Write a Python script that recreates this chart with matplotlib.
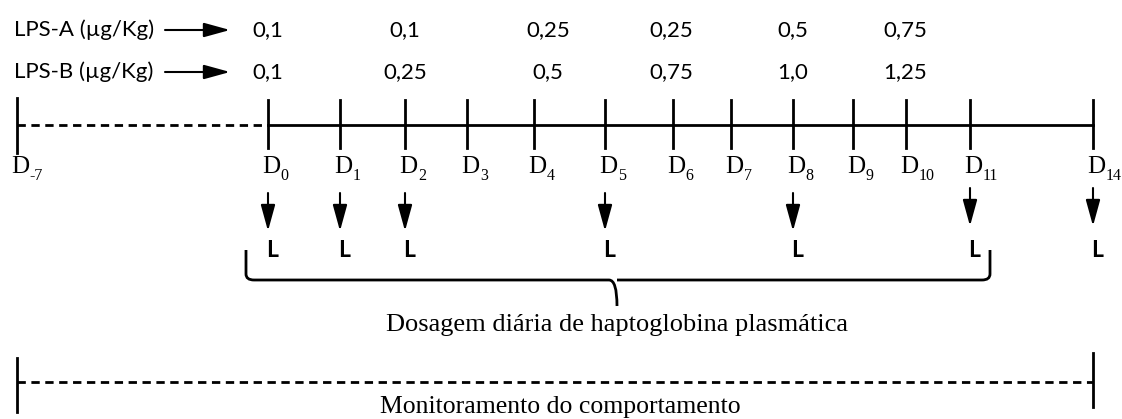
import matplotlib.pyplot as plt
from matplotlib.path import Path
from matplotlib.patches import PathPatch

# dias do protocolo
days = ['-7', '0', '1', '2', '3', '4', '5', '6', '7', '8', '9', '10', '11', '14']
# doses de LPS (ug/Kg)
lps_a = ['0,1', '0,1', '0,25', '0,25', '0,5', '0,75']
lps_b = ['0,1', '0,25', '0,5', '0,75', '1,0', '1,25']
# dias de coleta (L)
sample_days = ['0', '1', '2', '5', '8', '11', '14']

# layout em pixels
tick_x = [17, 268, 340, 405, 467, 534, 605, 673, 731, 793, 853, 906, 970, 1093]
dose_x = [268, 405, 548, 671, 793, 905]
line_y = 125

fig = plt.figure(figsize=(11.22, 4.19), dpi=100)
ax = fig.add_axes([0, 0, 1, 1])
ax.set_xlim(0, 1122)
ax.set_ylim(419, 0)
ax.axis('off')

sans = 'Lato'
serif = 'Liberation Serif'
arrow_style = '-|>,head_length=0.8,head_width=0.22'

# linhas LPS
for y, name, vals in [(30, 'LPS-A (µg/Kg)', lps_a), (72, 'LPS-B (µg/Kg)', lps_b)]:
    ax.text(14, y, name, fontsize=16, family=sans, va='center', ha='left')
    ax.annotate('', xy=(230, y), xytext=(165, y),
                arrowprops=dict(arrowstyle=arrow_style, lw=1.5, color='black',
                                mutation_scale=20, shrinkA=0, shrinkB=0))
    for x, v in zip(dose_x, vals):
        ax.text(x, y, v, fontsize=16, family=sans, va='center', ha='center')

# linha do tempo
ax.plot([tick_x[0], tick_x[1]], [line_y, line_y], color='black', lw=2, ls=(0, (3, 2)))
ax.plot([tick_x[1], tick_x[-1]], [line_y, line_y], color='black', lw=2)
for i, (x, d) in enumerate(zip(tick_x, days)):
    top = 100 if i else 98
    bot = 148 if i else 153
    ax.plot([x, x], [top, bot], color='black', lw=2)
    t = ax.text(x - 6, 167, 'D', fontsize=18, family=serif, ha='left', va='center')
    ax.annotate(d, xy=(1, 0), xycoords=t, xytext=(0.5, -4), textcoords='offset points',
                fontsize=11.5, family=serif, ha='left', va='bottom')

# setas de coleta
for d in sample_days:
    x = tick_x[days.index(d)]
    y0 = 188 if d in ('11', '14') else 193
    y1 = 226 if d in ('11', '14') else 231
    ax.annotate('', xy=(x, y1), xytext=(x, y0),
                arrowprops=dict(arrowstyle=arrow_style, lw=1.5, color='black',
                                mutation_scale=20, shrinkA=0, shrinkB=0))
    ax.text(x + 4, 250, 'L', fontsize=16.5, family=sans, weight='bold', ha='center', va='center')

# chave
bl, br, tip = 246, 990, 617
yt, yb, yp = 250, 280, 306
verts = [(bl, yt), (bl, yb - 6), (bl, yb), (bl + 8, yb),
         (tip - 8, yb), (tip, yb), (tip, yp),
         (tip, yb), (tip + 8, yb),
         (br - 8, yb), (br, yb), (br, yb - 6), (br, yt)]
codes = [Path.MOVETO, Path.LINETO, Path.CURVE3, Path.CURVE3,
         Path.LINETO, Path.CURVE3, Path.CURVE3,
         Path.MOVETO, Path.LINETO,
         Path.LINETO, Path.CURVE3, Path.CURVE3, Path.LINETO]
ax.add_patch(PathPatch(Path(verts, codes), fill=False, lw=2, color='black'))
ax.text(tip, 325, 'Dosagem diária de haptoglobina plasmática', fontsize=19,
        family=serif, ha='center', va='center')

# monitoramento
ax.plot([tick_x[0], tick_x[-1]], [382, 382], color='black', lw=2, ls=(0, (3, 2)))
ax.plot([tick_x[0], tick_x[0]], [358, 412], color='black', lw=2)
ax.plot([tick_x[-1], tick_x[-1]], [353, 407], color='black', lw=2)
ax.text(560, 407, 'Monitoramento do comportamento', fontsize=18.5,
        family=serif, ha='center', va='center')

fig.savefig('out.png', dpi=100)
